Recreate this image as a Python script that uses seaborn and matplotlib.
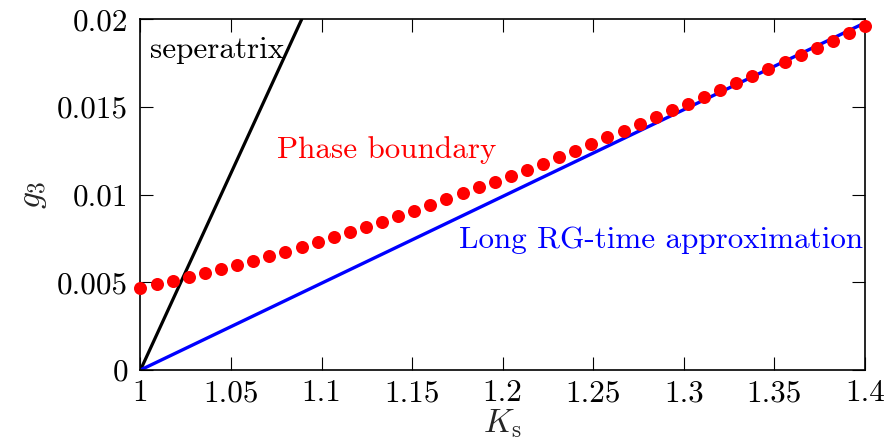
import numpy as np
import pandas as pd
import matplotlib
matplotlib.use("Agg")
import matplotlib.pyplot as plt
import seaborn as sns

# phase boundary points
ks_boundary = [1.0000, 1.0089, 1.0178, 1.0267, 1.0356, 1.0444, 1.0533, 1.0622,
               1.0711, 1.0800, 1.0889, 1.0978, 1.1067, 1.1156, 1.1244, 1.1333,
               1.1422, 1.1511, 1.1600, 1.1689, 1.1778, 1.1867, 1.1956, 1.2044,
               1.2133, 1.2222, 1.2311, 1.2400, 1.2489, 1.2578, 1.2667, 1.2756,
               1.2844, 1.2933, 1.3022, 1.3111, 1.3200, 1.3289, 1.3378, 1.3467,
               1.3556, 1.3644, 1.3733, 1.3822, 1.3911, 1.4000]
g3_boundary = [0.00469, 0.00489, 0.00509, 0.00530, 0.00551, 0.00574, 0.00599, 0.00620,
               0.00648, 0.00675, 0.00703, 0.00728, 0.00757, 0.00785, 0.00816, 0.00844,
               0.00877, 0.00908, 0.00941, 0.00975, 0.01008, 0.01042, 0.01074, 0.01106,
               0.01141, 0.01177, 0.01213, 0.01251, 0.01289, 0.01327, 0.01363, 0.01401,
               0.01441, 0.01481, 0.01519, 0.01557, 0.01597, 0.01637, 0.01677, 0.01717,
               0.01757, 0.01798, 0.01838, 0.01878, 0.01920, 0.01962]

# straight lines
ks_sep = [1.0, 1.089]
g3_sep = [0.0, 0.02]
ks_long = [1.0, 1.4]
g3_long = [0.0, 0.0198]

x_ticks = [1.0, 1.05, 1.1, 1.15, 1.2, 1.25, 1.3, 1.35, 1.4]
x_labels = ["1", "1.05", "1.1", "1.15", "1.2", "1.25", "1.3", "1.35", "1.4"]
y_ticks = [0.0, 0.005, 0.01, 0.015, 0.02]
y_labels = ["0", "0.005", "0.01", "0.015", "0.02"]

sns.set_theme(style="ticks")
plt.rcParams["font.family"] = ["cmr10", "DejaVu Serif"]
plt.rcParams["mathtext.fontset"] = "cm"
plt.rcParams["axes.formatter.use_mathtext"] = True

fs = 22.4

fig = plt.figure(figsize=(8.88, 4.43), dpi=100)
ax = fig.add_axes([0.1582, 0.1648, 0.9741 - 0.1582, 0.9564 - 0.1648])

sns.lineplot(x=ks_sep, y=g3_sep, color="black", lw=2.3, ax=ax)
sns.lineplot(x=ks_long, y=g3_long, color="blue", lw=2.4, ax=ax)
sns.scatterplot(x=ks_boundary, y=g3_boundary, color="red", s=88, linewidth=0,
                ax=ax, clip_on=False, zorder=5)

ax.set_xlim(1.0, 1.4)
ax.set_ylim(0.0, 0.02)
ax.set_xticks(x_ticks)
ax.set_xticklabels(x_labels)
ax.set_yticks(y_ticks)
ax.set_yticklabels(y_labels)
ax.tick_params(direction="in", length=9.5, width=0.8, top=True, right=True,
               labelsize=fs, pad=7, colors="black")
ax.tick_params(axis="y", pad=9)
for sp in ax.spines.values():
    sp.set_linewidth(1.2)
    sp.set_color("black")

ax.set_xlabel(r"$K_{\mathrm{s}}$", fontsize=24, labelpad=0)
ax.set_ylabel(r"$g_3$", fontsize=24, labelpad=6)

ax.text(1.0055, 0.01825, "seperatrix", color="black", fontsize=fs, va="center", ha="left")
ax.text(1.136, 0.01255, "Phase boundary", color="red", fontsize=fs, va="center", ha="center")
ax.text(1.3988, 0.00741, "Long RG-time approximation", color="blue", fontsize=fs,
        va="center", ha="right")

fig.savefig("out.png", dpi=100)
